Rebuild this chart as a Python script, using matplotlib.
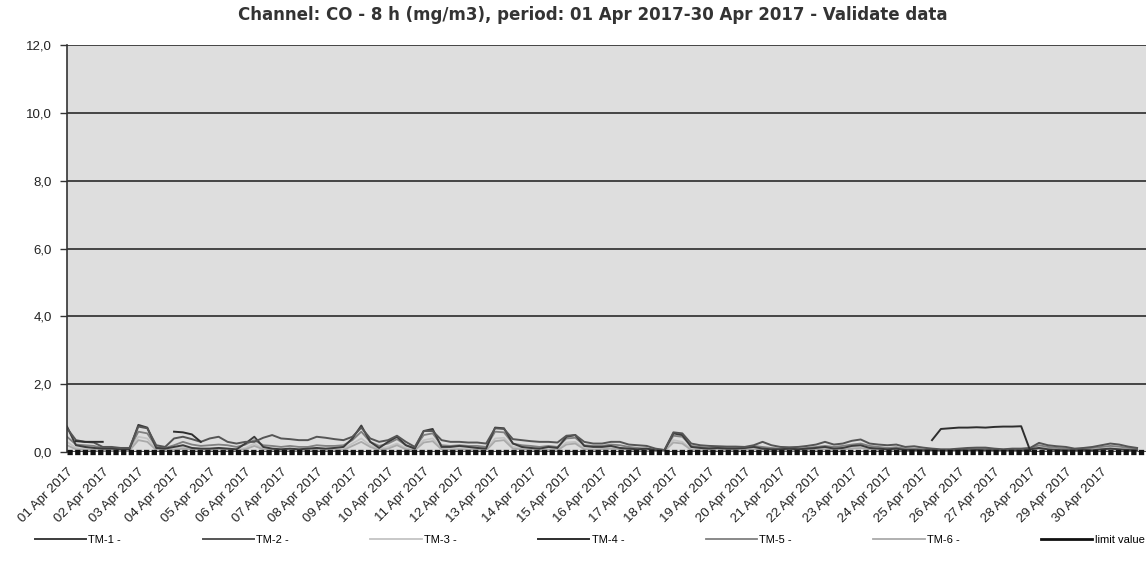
"""CO 8 h channel, April 2017 - six stations on a 6-hourly grid."""

import numpy as np
import matplotlib
matplotlib.use("Agg")
import matplotlib.pyplot as plt
from matplotlib.lines import Line2D
from matplotlib.ticker import FuncFormatter

plt.rcParams["font.family"] = ["Liberation Sans", "DejaVu Sans"]

# values every 6 h (00, 06, 12, 18) from 01 Apr 00:00 to 01 May 00:00
day_labels = [f"{d:02d} Apr 2017" for d in range(1, 31)]

tm1 = [0.75, 0.20, 0.15, 0.12, 0.10, 0.10, 0.08, 0.08, 0.80, 0.72, 0.12, 0.10,
       0.15, 0.20, 0.12, 0.10, 0.10, 0.12, 0.10, 0.08, 0.25, 0.45, 0.15, 0.10,
       0.08, 0.10, 0.08, 0.10, 0.12, 0.10, 0.12, 0.15, 0.40, 0.78, 0.30, 0.12,
       0.30, 0.45, 0.20, 0.10, 0.62, 0.68, 0.15, 0.15, 0.18, 0.15, 0.12, 0.10,
       0.72, 0.70, 0.25, 0.15, 0.12, 0.10, 0.15, 0.12, 0.45, 0.50, 0.18, 0.15,
       0.15, 0.18, 0.12, 0.10, 0.08, 0.10, 0.05, 0.05, 0.55, 0.50, 0.15, 0.12,
       0.10, 0.12, 0.10, 0.10, 0.12, 0.15, 0.10, 0.08, 0.08, 0.10, 0.08, 0.10,
       0.12, 0.15, 0.10, 0.12, 0.18, 0.20, 0.12, 0.10, 0.08, 0.10, 0.06, 0.06,
       0.05, 0.06, 0.05, 0.05, 0.06, 0.05, 0.06, 0.05, 0.05, 0.05, 0.05, 0.04,
       0.08, 0.12, 0.08, 0.06, 0.05, 0.05, 0.06, 0.05, 0.08, 0.10, 0.08, 0.06,
       0.05]
tm2 = [0.70, 0.35, 0.30, 0.28, 0.15, 0.15, 0.12, 0.12, 0.75, 0.70, 0.20, 0.15,
       0.40, 0.45, 0.38, 0.30, 0.40, 0.45, 0.30, 0.25, 0.30, 0.30, 0.42, 0.50,
       0.40, 0.38, 0.35, 0.35, 0.45, 0.42, 0.38, 0.35, 0.45, 0.72, 0.40, 0.30,
       0.35, 0.48, 0.30, 0.15, 0.62, 0.62, 0.35, 0.30, 0.30, 0.28, 0.28, 0.25,
       0.70, 0.68, 0.38, 0.35, 0.32, 0.30, 0.30, 0.28, 0.48, 0.50, 0.30, 0.25,
       0.25, 0.30, 0.30, 0.22, 0.20, 0.18, 0.10, 0.06, 0.58, 0.55, 0.25, 0.20,
       0.18, 0.17, 0.16, 0.16, 0.15, 0.20, 0.30, 0.20, 0.15, 0.14, 0.15, 0.18,
       0.22, 0.30, 0.22, 0.25, 0.33, 0.37, 0.25, 0.22, 0.20, 0.22, 0.15, 0.17,
       0.13, 0.10, 0.08, 0.08, 0.10, 0.12, 0.13, 0.13, 0.10, 0.08, 0.10, 0.10,
       0.12, 0.27, 0.20, 0.17, 0.15, 0.10, 0.12, 0.15, 0.20, 0.25, 0.22, 0.16,
       0.12]
tm3 = [0.30, 0.12, 0.10, 0.08, 0.06, 0.06, 0.05, 0.05, 0.45, 0.40, 0.08, 0.06,
       0.10, 0.15, 0.10, 0.08, 0.10, 0.12, 0.10, 0.08, 0.12, 0.25, 0.10, 0.08,
       0.08, 0.06, 0.06, 0.08, 0.10, 0.08, 0.08, 0.10, 0.25, 0.40, 0.20, 0.10,
       0.15, 0.25, 0.12, 0.08, 0.35, 0.40, 0.12, 0.10, 0.12, 0.10, 0.10, 0.08,
       0.40, 0.42, 0.15, 0.12, 0.10, 0.08, 0.10, 0.08, 0.28, 0.30, 0.12, 0.10,
       0.12, 0.15, 0.12, 0.10, 0.08, 0.06, 0.05, 0.05, 0.35, 0.30, 0.10, 0.08,
       0.08, 0.10, 0.08, 0.08, 0.10, 0.12, 0.10, 0.08, 0.08, 0.08, 0.06, 0.08,
       0.10, 0.12, 0.10, 0.12, 0.15, 0.18, 0.12, 0.10, 0.08, 0.08, 0.06, 0.06,
       0.06, 0.05, 0.05, 0.05, 0.05, 0.05, 0.05, 0.05, 0.05, 0.05, 0.05, 0.05,
       0.10, 0.15, 0.10, 0.08, 0.06, 0.06, 0.08, 0.08, 0.10, 0.12, 0.10, 0.08,
       0.06]
# TM-4 only reported in three stretches; gaps are missing data
tm4 = ([np.nan] + [0.32, 0.30, 0.30, 0.30] + [np.nan] * 7
       + [0.60, 0.58, 0.52, 0.30] + [np.nan] * 81
       + [0.35, 0.68, 0.70, 0.72, 0.72, 0.73, 0.72, 0.74, 0.75, 0.75, 0.76, 0.05]
       + [np.nan] * 12)
tm5 = [0.45, 0.22, 0.20, 0.18, 0.12, 0.12, 0.10, 0.10, 0.60, 0.55, 0.15, 0.12,
       0.20, 0.30, 0.22, 0.18, 0.20, 0.22, 0.20, 0.15, 0.22, 0.35, 0.20, 0.18,
       0.15, 0.18, 0.15, 0.15, 0.20, 0.18, 0.18, 0.20, 0.35, 0.60, 0.30, 0.18,
       0.25, 0.38, 0.20, 0.12, 0.50, 0.55, 0.20, 0.18, 0.20, 0.18, 0.18, 0.15,
       0.60, 0.58, 0.25, 0.20, 0.18, 0.15, 0.18, 0.15, 0.40, 0.42, 0.20, 0.18,
       0.18, 0.22, 0.20, 0.15, 0.12, 0.10, 0.08, 0.06, 0.48, 0.45, 0.18, 0.15,
       0.12, 0.14, 0.12, 0.12, 0.12, 0.18, 0.15, 0.12, 0.10, 0.10, 0.10, 0.12,
       0.15, 0.18, 0.15, 0.18, 0.22, 0.25, 0.18, 0.15, 0.12, 0.14, 0.10, 0.10,
       0.08, 0.07, 0.06, 0.06, 0.08, 0.10, 0.10, 0.10, 0.08, 0.07, 0.08, 0.08,
       0.10, 0.20, 0.15, 0.12, 0.10, 0.08, 0.10, 0.12, 0.15, 0.18, 0.16, 0.12,
       0.10]
tm6 = [0.20, 0.08, 0.06, 0.05, 0.04, 0.04, 0.04, 0.04, 0.35, 0.30, 0.06, 0.05,
       0.06, 0.10, 0.08, 0.06, 0.06, 0.08, 0.06, 0.05, 0.08, 0.18, 0.08, 0.06,
       0.05, 0.05, 0.04, 0.05, 0.06, 0.05, 0.05, 0.06, 0.18, 0.30, 0.15, 0.06,
       0.10, 0.20, 0.08, 0.05, 0.28, 0.32, 0.08, 0.06, 0.08, 0.06, 0.06, 0.05,
       0.32, 0.35, 0.10, 0.08, 0.06, 0.05, 0.06, 0.05, 0.22, 0.25, 0.08, 0.06,
       0.08, 0.10, 0.08, 0.06, 0.05, 0.04, 0.03, 0.03, 0.28, 0.25, 0.06, 0.05,
       0.05, 0.06, 0.05, 0.05, 0.06, 0.08, 0.06, 0.05, 0.05, 0.05, 0.04, 0.05,
       0.06, 0.08, 0.06, 0.08, 0.10, 0.12, 0.08, 0.06, 0.05, 0.05, 0.04, 0.04,
       0.04, 0.03, 0.03, 0.03, 0.03, 0.03, 0.03, 0.03, 0.03, 0.03, 0.03, 0.03,
       0.06, 0.10, 0.06, 0.05, 0.04, 0.04, 0.05, 0.05, 0.06, 0.08, 0.06, 0.05,
       0.04]

series = [
    ("TM-1 -", tm1, "#3c3c3c", 1.4),
    ("TM-2 -", tm2, "#555555", 1.4),
    ("TM-3 -", tm3, "#c4c4c4", 1.3),
    ("TM-4 -", tm4, "#2e2e2e", 1.4),
    ("TM-5 -", tm5, "#808080", 1.3),
    ("TM-6 -", tm6, "#aaaaaa", 1.3),
]
limit_color = "#111111"

fig = plt.figure(figsize=(11.46, 5.77), dpi=100)
ax = fig.add_axes([0.0585, 0.2166, 0.9415, 0.7054])
ax.set_facecolor("#dedede")

x = np.arange(len(tm1)) / 4.0
# draw light series first so the darker ones stay on top
for name, values, color, lw in [series[2], series[5], series[4], series[0], series[1], series[3]]:
    ax.plot(x, values, color=color, lw=lw, solid_joinstyle="round")

ax.set_xlim(0, 30.25)
ax.set_ylim(0, 12)
ax.set_yticks(np.arange(0, 13, 2))
ax.yaxis.set_major_formatter(FuncFormatter(lambda v, _: f"{v:.1f}".replace(".", ",")))
ax.grid(axis="y", color="#2a2a2a", lw=1.2)
ax.set_axisbelow(True)

ax.set_xticks(np.arange(30))
ax.set_xticklabels(day_labels, rotation=45, ha="right", rotation_mode="anchor",
                   fontsize=9.5, color="#222222")
ax.tick_params(axis="x", length=0, pad=10)
ax.tick_params(axis="y", length=5, width=1, color="#333333", labelsize=9.5,
               labelcolor="#222222", pad=6)

for side in ("top", "right"):
    ax.spines[side].set_visible(False)
ax.spines["left"].set_color("#333333")
ax.spines["left"].set_linewidth(1.2)
# the axis is drawn as a row of small black blocks
bottom = ax.spines["bottom"]
bottom.set_color("#111111")
bottom.set_linewidth(3.8)
bottom.set_linestyle((0, (1.0, 0.45)))
bottom.set_capstyle("butt")

fig.suptitle("Channel: CO - 8 h (mg/m3), period: 01 Apr 2017-30 Apr 2017 - Validate data",
             x=0.517, y=0.99, fontsize=12, fontweight="bold", color="#333333",
             family="DejaVu Sans")

handles = [Line2D([], [], color=c, lw=lw) for _, _, c, lw in series]
handles.append(Line2D([], [], color=limit_color, lw=2))
labels = [s[0] for s in series] + ["limit value"]
fig.legend(handles, labels, ncol=7, loc="center left", bbox_to_anchor=(0.0305, 0.064),
           frameon=False, fontsize=8, handlelength=4.6, handletextpad=0.2,
           columnspacing=7.35, borderpad=0.0, borderaxespad=0.0)

fig.savefig("out.png", dpi=100)
